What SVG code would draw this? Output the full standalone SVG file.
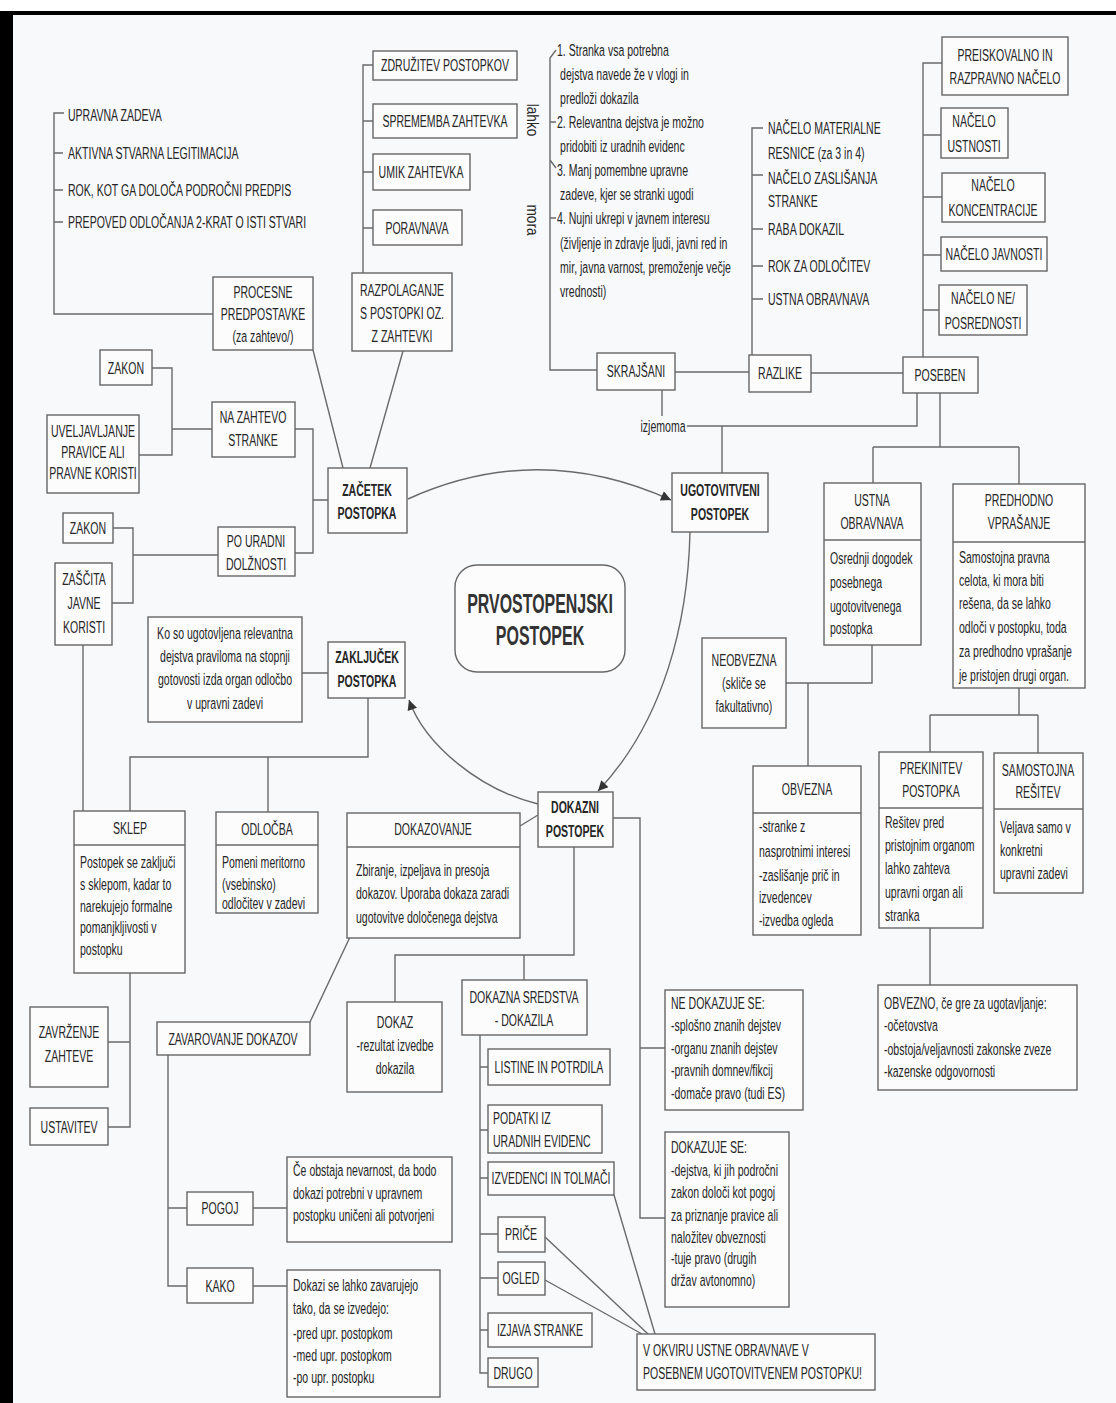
<svg xmlns="http://www.w3.org/2000/svg" width="1116" height="1403" viewBox="0 0 1116 1403">
<style>
.bg{fill:#f8f9fb}
.b{fill:#fcfcfd;stroke:#666;stroke-width:1.4}
.l{fill:none;stroke:#6a6a6a;stroke-width:1.4}
.t{font-family:"Liberation Sans",Arial,sans-serif;font-size:17px;fill:#262626;dominant-baseline:central}
.c{text-anchor:middle}
.bd{font-weight:bold}
.title{font-family:"Liberation Sans",Arial,sans-serif;font-size:28px;font-weight:bold;fill:#333;text-anchor:middle;dominant-baseline:central}
</style>
<defs>
<marker id="ah" viewBox="0 0 10 10" refX="10" refY="5" markerWidth="12" markerHeight="10" markerUnits="userSpaceOnUse" orient="auto">
<path d="M0,0 L10,5 L0,10 z" fill="#333"/>
</marker>
</defs>
<rect x="0" y="0" width="1116" height="1403" fill="#ffffff"/>
<rect class="bg" x="13" y="15" width="1103" height="1388"/>
<rect x="0" y="11" width="1116" height="4" fill="#000"/>
<rect x="0" y="11" width="13" height="1392" fill="#000"/>

<g id="connectors">
<path class="l" d="M64 113 L54 113 L54 314 L213 314 M54 153 L63 153 M54 190 L63 190 M54 222 L63 222"/>
<path class="l" d="M373 65 L363 65 L363 273 M363 121 L373 121 M363 172 L373 172 M363 228 L373 228"/>
<path class="l" d="M556 50 L550 58 L550 370 L597 370 M550 122 L556 122 M550 160 L556 168 M550 218 L556 218"/>
<path class="l" d="M675 372 L749 372 M811 373 L903 373"/>
<path class="l" d="M763 128 L752 128 L752 355 M752 175 L763 175 M752 229 L763 229 M752 266 L763 266 M752 299 L763 299"/>
<path class="l" d="M942 63 L923 63 L923 357 M923 135 L941 135 M923 197 L942 197 M923 255 L941 255 M923 310 L939 310"/>
<path class="l" d="M662 390 L662 416 M687 426 L917 426 L917 393 M722 426 L722 473"/>
<path class="l" d="M940 393 L940 447 M873 447 L1019 447 M873 447 L873 483 M1019 447 L1019 484"/>
<path class="l" d="M872 645 L872 683 L786 683 M808 683 L808 766"/>
<path class="l" d="M1019 688 L1019 715 M930 715 L1038 715 M930 715 L930 752 M1038 715 L1038 753 M930 928 L930 985"/>
<path class="l" d="M313 350 L343 468 M403 351 L370 468"/>
<path class="l" d="M152 368 L172 368 L172 455 L139 455 M172 429 L212 429 M295 429 L313 429 L313 553 L295 553 M313 500 L328 500"/>
<path class="l" d="M113 528 L133 528 L133 603 L112 603 M133 555 L218 555"/>
<path class="l" d="M302 673 L328 673 M83 645 L83 811 M368 698 L368 757 L130 757 L130 811 M268 757 L268 812"/>
<path class="l" d="M130 973 L130 1127 L108 1127 M130 1042 L108 1042"/>
<path class="l" d="M538 815 L520 826 M574 847 L574 955 L395 955 L395 1002 M524 955 L524 980"/>
<path class="l" d="M613 818 L640 818 L640 1218 L665 1218 M640 1048 L665 1048"/>
<path class="l" d="M480 1035 L480 1373 L488 1373 M480 1067 L488 1067 M480 1130 L488 1130 M480 1178 L488 1178 M480 1234 L498 1234 M480 1278 L498 1278 M480 1330 L488 1330"/>
<path class="l" d="M614 1195 L655 1334 M545 1237 L648 1334 M545 1280 L642 1334"/>
<path class="l" d="M350 937 L310 1022 M168 1055 L168 1286 L187 1286 M168 1208 L187 1208 M253 1208 L287 1208 M253 1286 L287 1286"/>
<path class="l" d="M408 499 Q538 440 671 500" marker-end="url(#ah)"/>
<path class="l" d="M690 532 C688 620 665 720 598 791" marker-end="url(#ah)"/>
<path class="l" d="M538 804 C480 790 425 745 409 700" marker-end="url(#ah)"/>
</g>

<g id="list-pogoji">
<text class="t" transform="translate(68 0) scale(.62 1)"><tspan x="0" y="115">UPRAVNA ZADEVA</tspan><tspan x="0" y="153">AKTIVNA STVARNA LEGITIMACIJA</tspan><tspan x="0" y="190">ROK, KOT GA DOLOČA PODROČNI PREDPIS</tspan><tspan x="0" y="222">PREPOVED ODLOČANJA 2-KRAT O ISTI STVARI</tspan></text>
</g>
<g id="procesne">
<rect class="b" x="213" y="277" width="100" height="73"/>
<text class="t c" transform="translate(263 0) scale(.62 1)"><tspan x="0" y="292">PROCESNE</tspan><tspan x="0" y="314">PREDPOSTAVKE</tspan><tspan x="0" y="336">(za zahtevo/)</tspan></text>
</g>
<g id="razpolaganje">
<rect class="b" x="352" y="273" width="100" height="78"/>
<text class="t c" transform="translate(402 0) scale(.62 1)"><tspan x="0" y="290">RAZPOLAGANJE</tspan><tspan x="0" y="313">S POSTOPKI OZ.</tspan><tspan x="0" y="336">Z ZAHTEVKI</tspan></text>
</g>
<g id="zdruzitev"><rect class="b" x="373" y="51" width="144" height="29"/><text class="t c" transform="translate(445 0) scale(.62 1)"><tspan x="0" y="65">ZDRUŽITEV POSTOPKOV</tspan></text></g>
<g id="sprememba"><rect class="b" x="373" y="104" width="144" height="34"/><text class="t c" transform="translate(445 0) scale(.62 1)"><tspan x="0" y="121">SPREMEMBA ZAHTEVKA</tspan></text></g>
<g id="umik"><rect class="b" x="373" y="154" width="97" height="36"/><text class="t c" transform="translate(421 0) scale(.62 1)"><tspan x="0" y="172">UMIK ZAHTEVKA</tspan></text></g>
<g id="poravnava"><rect class="b" x="373" y="210" width="89" height="35"/><text class="t c" transform="translate(417 0) scale(.62 1)"><tspan x="0" y="228">PORAVNAVA</tspan></text></g>

<g id="lahko-mora">
<text class="t" transform="translate(533 120) rotate(90) scale(.8 1)" text-anchor="middle">lahko</text>
<text class="t" transform="translate(533 220) rotate(90) scale(.8 1)" text-anchor="middle">mora</text>
<text class="t" transform="translate(557 0) scale(.62 1)"><tspan x="0" y="50">1. Stranka vsa potrebna</tspan><tspan x="5" y="74">dejstva navede že v vlogi in</tspan><tspan x="5" y="98">predloži dokazila</tspan><tspan x="0" y="122">2. Relevantna dejstva je možno</tspan><tspan x="5" y="146">pridobiti iz uradnih evidenc</tspan><tspan x="0" y="170">3. Manj pomembne upravne</tspan><tspan x="5" y="194">zadeve, kjer se stranki ugodi</tspan><tspan x="0" y="218">4. Nujni ukrepi v javnem interesu</tspan><tspan x="5" y="243">(življenje in zdravje ljudi, javni red in</tspan><tspan x="5" y="267">mir, javna varnost, premoženje večje</tspan><tspan x="5" y="291">vrednosti)</tspan></text>
</g>

<g id="skrajsani"><rect class="b" x="597" y="353" width="78" height="37"/><text class="t c" transform="translate(636 0) scale(.62 1)"><tspan x="0" y="371">SKRAJŠANI</tspan></text></g>
<g id="izjemoma"><text class="t c" transform="translate(663 0) scale(.62 1)"><tspan x="0" y="426">izjemoma</tspan></text></g>
<g id="razlike"><rect class="b" x="749" y="355" width="62" height="37"/><text class="t c" transform="translate(780 0) scale(.62 1)"><tspan x="0" y="373">RAZLIKE</tspan></text></g>
<g id="poseben"><rect class="b" x="903" y="357" width="75" height="36"/><text class="t c" transform="translate(940 0) scale(.62 1)"><tspan x="0" y="375">POSEBEN</tspan></text></g>

<g id="list-razlike">
<text class="t" transform="translate(768 0) scale(.62 1)"><tspan x="0" y="128">NAČELO MATERIALNE</tspan><tspan x="0" y="153">RESNICE (za 3 in 4)</tspan><tspan x="0" y="178">NAČELO ZASLIŠANJA</tspan><tspan x="0" y="201">STRANKE</tspan><tspan x="0" y="229">RABA DOKAZIL</tspan><tspan x="0" y="266">ROK ZA ODLOČITEV</tspan><tspan x="0" y="299">USTNA OBRAVNAVA</tspan></text>
</g>

<g id="preiskovalno"><rect class="b" x="942" y="37" width="126" height="58"/><text class="t c" transform="translate(1005 0) scale(.62 1)"><tspan x="0" y="55">PREISKOVALNO IN</tspan><tspan x="0" y="78">RAZPRAVNO NAČELO</tspan></text></g>
<g id="ustnost"><rect class="b" x="941" y="108" width="67" height="50"/><text class="t c" transform="translate(974 0) scale(.62 1)"><tspan x="0" y="121">NAČELO</tspan><tspan x="0" y="146">USTNOSTI</tspan></text></g>
<g id="koncentracija"><rect class="b" x="942" y="173" width="103" height="49"/><text class="t c" transform="translate(993 0) scale(.62 1)"><tspan x="0" y="185">NAČELO</tspan><tspan x="0" y="210">KONCENTRACIJE</tspan></text></g>
<g id="javnost"><rect class="b" x="941" y="237" width="106" height="34"/><text class="t c" transform="translate(994 0) scale(.62 1)"><tspan x="0" y="254">NAČELO JAVNOSTI</tspan></text></g>
<g id="neposrednost"><rect class="b" x="939" y="285" width="88" height="50"/><text class="t c" transform="translate(983 0) scale(.62 1)"><tspan x="0" y="298">NAČELO NE/</tspan><tspan x="0" y="323">POSREDNOSTI</tspan></text></g>

<g id="ugotovitveni"><rect class="b" x="672" y="473" width="96" height="59"/><text class="t c bd" transform="translate(720 0) scale(.62 1)"><tspan x="0" y="490">UGOTOVITVENI</tspan><tspan x="0" y="514">POSTOPEK</tspan></text></g>

<g id="ustna">
<rect class="b" x="824" y="483" width="97" height="162"/><path class="l" d="M824 540 L921 540"/>
<text class="t c" transform="translate(872 0) scale(.62 1)"><tspan x="0" y="500">USTNA</tspan><tspan x="0" y="523">OBRAVNAVA</tspan></text>
<text class="t" transform="translate(830 0) scale(.62 1)"><tspan x="0" y="558">Osrednji dogodek</tspan><tspan x="0" y="582">posebnega</tspan><tspan x="0" y="606">ugotovitvenega</tspan><tspan x="0" y="628">postopka</tspan></text>
</g>
<g id="predhodno">
<rect class="b" x="953" y="484" width="132" height="204"/><path class="l" d="M953 542 L1085 542"/>
<text class="t c" transform="translate(1019 0) scale(.62 1)"><tspan x="0" y="500">PREDHODNO</tspan><tspan x="0" y="523">VPRAŠANJE</tspan></text>
<text class="t" transform="translate(959 0) scale(.62 1)"><tspan x="0" y="557">Samostojna pravna</tspan><tspan x="0" y="580">celota, ki mora biti</tspan><tspan x="0" y="603">rešena, da se lahko</tspan><tspan x="0" y="627">odloči v postopku, toda</tspan><tspan x="0" y="651">za predhodno vprašanje</tspan><tspan x="0" y="675">je pristojen drugi organ.</tspan></text>
</g>
<g id="neobvezna"><rect class="b" x="702" y="638" width="84" height="90"/><text class="t c" transform="translate(744 0) scale(.62 1)"><tspan x="0" y="660">NEOBVEZNA</tspan><tspan x="0" y="683">(skliče se</tspan><tspan x="0" y="706">fakultativno)</tspan></text></g>
<g id="obvezna">
<rect class="b" x="753" y="766" width="108" height="169"/><path class="l" d="M753 813 L861 813"/>
<text class="t c" transform="translate(807 0) scale(.62 1)"><tspan x="0" y="789">OBVEZNA</tspan></text>
<text class="t" transform="translate(759 0) scale(.62 1)"><tspan x="0" y="826">-stranke z</tspan><tspan x="0" y="851">nasprotnimi interesi</tspan><tspan x="0" y="875">-zaslišanje prič in</tspan><tspan x="0" y="897">izvedencev</tspan><tspan x="0" y="920">-izvedba ogleda</tspan></text>
</g>
<g id="prekinitev">
<rect class="b" x="879" y="752" width="104" height="176"/><path class="l" d="M879 808 L983 808"/>
<text class="t c" transform="translate(931 0) scale(.62 1)"><tspan x="0" y="768">PREKINITEV</tspan><tspan x="0" y="791">POSTOPKA</tspan></text>
<text class="t" transform="translate(885 0) scale(.62 1)"><tspan x="0" y="822">Rešitev pred</tspan><tspan x="0" y="845">pristojnim organom</tspan><tspan x="0" y="868">lahko zahteva</tspan><tspan x="0" y="892">upravni organ ali</tspan><tspan x="0" y="915">stranka</tspan></text>
</g>
<g id="samostojna">
<rect class="b" x="994" y="753" width="89" height="140"/><path class="l" d="M994 809 L1083 809"/>
<text class="t c" transform="translate(1038 0) scale(.62 1)"><tspan x="0" y="770">SAMOSTOJNA</tspan><tspan x="0" y="792">REŠITEV</tspan></text>
<text class="t" transform="translate(1000 0) scale(.62 1)"><tspan x="0" y="827">Veljava samo v</tspan><tspan x="0" y="850">konkretni</tspan><tspan x="0" y="873">upravni zadevi</tspan></text>
</g>
<g id="obvezno">
<rect class="b" x="878" y="985" width="199" height="105"/>
<text class="t" transform="translate(884 0) scale(.62 1)"><tspan x="0" y="1003">OBVEZNO, če gre za ugotavljanje:</tspan><tspan x="0" y="1025">-očetovstva</tspan><tspan x="0" y="1049">-obstoja/veljavnosti zakonske zveze</tspan><tspan x="0" y="1071">-kazenske odgovornosti</tspan></text>
</g>

<g id="zacetek"><rect class="b" x="328" y="468" width="79" height="65"/><text class="t c bd" transform="translate(367 0) scale(.62 1)"><tspan x="0" y="490">ZAČETEK</tspan><tspan x="0" y="513">POSTOPKA</tspan></text></g>
<g id="zakon1"><rect class="b" x="100" y="350" width="52" height="35"/><text class="t c" transform="translate(126 0) scale(.62 1)"><tspan x="0" y="368">ZAKON</tspan></text></g>
<g id="uveljavljanje"><rect class="b" x="47" y="415" width="92" height="78"/><text class="t c" transform="translate(93 0) scale(.62 1)"><tspan x="0" y="431">UVELJAVLJANJE</tspan><tspan x="0" y="452">PRAVICE ALI</tspan><tspan x="0" y="473">PRAVNE KORISTI</tspan></text></g>
<g id="nazahtevo"><rect class="b" x="212" y="402" width="83" height="55"/><text class="t c" transform="translate(253 0) scale(.62 1)"><tspan x="0" y="417">NA ZAHTEVO</tspan><tspan x="0" y="440">STRANKE</tspan></text></g>
<g id="zakon2"><rect class="b" x="63" y="513" width="50" height="30"/><text class="t c" transform="translate(88 0) scale(.62 1)"><tspan x="0" y="528">ZAKON</tspan></text></g>
<g id="zascita"><rect class="b" x="55" y="563" width="57" height="82"/><text class="t c" transform="translate(84 0) scale(.62 1)"><tspan x="0" y="579">ZAŠČITA</tspan><tspan x="0" y="603">JAVNE</tspan><tspan x="0" y="627">KORISTI</tspan></text></g>
<g id="pouradni"><rect class="b" x="218" y="527" width="77" height="49"/><text class="t c" transform="translate(256 0) scale(.62 1)"><tspan x="0" y="541">PO URADNI</tspan><tspan x="0" y="564">DOLŽNOSTI</tspan></text></g>

<g id="center"><rect x="455" y="565" width="170" height="107" rx="22" ry="22" fill="#fcfcfd" stroke="#666" stroke-width="1.4"/><text class="title" transform="translate(540 0) scale(.57 1)"><tspan x="0" y="603">PRVOSTOPENJSKI</tspan><tspan x="0" y="635">POSTOPEK</tspan></text></g>

<g id="zakljucek"><rect class="b" x="328" y="642" width="77" height="56"/><text class="t c bd" transform="translate(367 0) scale(.62 1)"><tspan x="0" y="657">ZAKLJUČEK</tspan><tspan x="0" y="681">POSTOPKA</tspan></text></g>
<g id="zakljucek-opis"><rect class="b" x="148" y="617" width="154" height="105"/><text class="t c" transform="translate(225 0) scale(.62 1)"><tspan x="0" y="633">Ko so ugotovljena relevantna</tspan><tspan x="0" y="656">dejstva praviloma na stopnji</tspan><tspan x="0" y="679">gotovosti izda organ odločbo</tspan><tspan x="0" y="703">v upravni zadevi</tspan></text></g>
<g id="sklep">
<rect class="b" x="74" y="811" width="111" height="162"/><path class="l" d="M74 845 L185 845"/>
<text class="t c" transform="translate(130 0) scale(.62 1)"><tspan x="0" y="828">SKLEP</tspan></text>
<text class="t" transform="translate(80 0) scale(.62 1)"><tspan x="0" y="862">Postopek se zaključi</tspan><tspan x="0" y="884">s sklepom, kadar to</tspan><tspan x="0" y="906">narekujejo formalne</tspan><tspan x="0" y="927">pomanjkljivosti v</tspan><tspan x="0" y="949">postopku</tspan></text>
</g>
<g id="odlocba">
<rect class="b" x="216" y="812" width="102" height="101"/><path class="l" d="M216 845 L318 845"/>
<text class="t c" transform="translate(267 0) scale(.62 1)"><tspan x="0" y="829">ODLOČBA</tspan></text>
<text class="t" transform="translate(222 0) scale(.62 1)"><tspan x="0" y="862">Pomeni meritorno</tspan><tspan x="0" y="884">(vsebinsko)</tspan><tspan x="0" y="903">odločitev v zadevi</tspan></text>
</g>
<g id="zavrzenje"><rect class="b" x="30" y="1007" width="78" height="80"/><text class="t c" transform="translate(69 0) scale(.62 1)"><tspan x="0" y="1032">ZAVRŽENJE</tspan><tspan x="0" y="1056">ZAHTEVE</tspan></text></g>
<g id="ustavitev"><rect class="b" x="30" y="1108" width="78" height="37"/><text class="t c" transform="translate(69 0) scale(.62 1)"><tspan x="0" y="1127">USTAVITEV</tspan></text></g>

<g id="dokazni"><rect class="b" x="538" y="792" width="75" height="55"/><text class="t c bd" transform="translate(575 0) scale(.62 1)"><tspan x="0" y="807">DOKAZNI</tspan><tspan x="0" y="831">POSTOPEK</tspan></text></g>
<g id="dokazovanje">
<rect class="b" x="347" y="813" width="173" height="125"/><path class="l" d="M347 847 L520 847"/>
<text class="t c" transform="translate(433 0) scale(.62 1)"><tspan x="0" y="829">DOKAZOVANJE</tspan></text>
<text class="t" transform="translate(356 0) scale(.62 1)"><tspan x="0" y="870">Zbiranje, izpeljava in presoja</tspan><tspan x="0" y="893">dokazov. Uporaba dokaza zaradi</tspan><tspan x="0" y="917">ugotovitve določenega dejstva</tspan></text>
</g>
<g id="dokaz"><rect class="b" x="347" y="1002" width="95" height="90"/><text class="t c" transform="translate(395 0) scale(.62 1)"><tspan x="0" y="1022">DOKAZ</tspan><tspan x="0" y="1045">-rezultat izvedbe</tspan><tspan x="0" y="1068">dokazila</tspan></text></g>
<g id="dokazna-sredstva"><rect class="b" x="462" y="980" width="125" height="55"/><text class="t c" transform="translate(524 0) scale(.62 1)"><tspan x="0" y="997">DOKAZNA SREDSTVA</tspan><tspan x="0" y="1020">- DOKAZILA</tspan></text></g>
<g id="listine"><rect class="b" x="488" y="1049" width="122" height="36"/><text class="t c" transform="translate(549 0) scale(.62 1)"><tspan x="0" y="1067">LISTINE IN POTRDILA</tspan></text></g>
<g id="podatki"><rect class="b" x="488" y="1105" width="114" height="48"/><text class="t" transform="translate(493 0) scale(.62 1)"><tspan x="0" y="1118">PODATKI IZ</tspan><tspan x="0" y="1141">URADNIH EVIDENC</tspan></text></g>
<g id="izvedenci"><rect class="b" x="488" y="1162" width="126" height="33"/><text class="t c" transform="translate(551 0) scale(.62 1)"><tspan x="0" y="1178">IZVEDENCI IN TOLMAČI</tspan></text></g>
<g id="price"><rect class="b" x="498" y="1217" width="47" height="35"/><text class="t c" transform="translate(521 0) scale(.62 1)"><tspan x="0" y="1234">PRIČE</tspan></text></g>
<g id="ogled"><rect class="b" x="498" y="1262" width="47" height="33"/><text class="t c" transform="translate(521 0) scale(.62 1)"><tspan x="0" y="1278">OGLED</tspan></text></g>
<g id="izjava"><rect class="b" x="488" y="1313" width="104" height="34"/><text class="t c" transform="translate(540 0) scale(.62 1)"><tspan x="0" y="1330">IZJAVA STRANKE</tspan></text></g>
<g id="drugo"><rect class="b" x="488" y="1358" width="50" height="29"/><text class="t c" transform="translate(513 0) scale(.62 1)"><tspan x="0" y="1373">DRUGO</tspan></text></g>
<g id="v-okviru"><rect class="b" x="637" y="1334" width="238" height="56"/><text class="t" transform="translate(643 0) scale(.62 1)"><tspan x="0" y="1350">V OKVIRU USTNE OBRAVNAVE V</tspan><tspan x="0" y="1373">POSEBNEM UGOTOVITVENEM POSTOPKU!</tspan></text></g>
<g id="ne-dokazuje"><rect class="b" x="665" y="990" width="138" height="120"/><text class="t" transform="translate(671 0) scale(.62 1)"><tspan x="0" y="1003">NE DOKAZUJE SE:</tspan><tspan x="0" y="1025">-splošno znanih dejstev</tspan><tspan x="0" y="1048">-organu znanih dejstev</tspan><tspan x="0" y="1070">-pravnih domnev/fikcij</tspan><tspan x="0" y="1093">-domače pravo (tudi ES)</tspan></text></g>
<g id="dokazuje"><rect class="b" x="665" y="1132" width="124" height="175"/><text class="t" transform="translate(671 0) scale(.62 1)"><tspan x="0" y="1147">DOKAZUJE SE:</tspan><tspan x="0" y="1170">-dejstva, ki jih področni</tspan><tspan x="0" y="1192">zakon določi kot pogoj</tspan><tspan x="0" y="1215">za priznanje pravice ali</tspan><tspan x="0" y="1237">naložitev obveznosti</tspan><tspan x="0" y="1258">-tuje pravo (drugih</tspan><tspan x="0" y="1280">držav avtonomno)</tspan></text></g>

<g id="zavarovanje"><rect class="b" x="157" y="1022" width="153" height="33"/><text class="t c" transform="translate(233 0) scale(.62 1)"><tspan x="0" y="1039">ZAVAROVANJE DOKAZOV</tspan></text></g>
<g id="pogoj"><rect class="b" x="187" y="1192" width="66" height="33"/><text class="t c" transform="translate(220 0) scale(.62 1)"><tspan x="0" y="1208">POGOJ</tspan></text></g>
<g id="kako"><rect class="b" x="187" y="1268" width="66" height="35"/><text class="t c" transform="translate(220 0) scale(.62 1)"><tspan x="0" y="1286">KAKO</tspan></text></g>
<g id="pogoj-opis"><rect class="b" x="287" y="1157" width="165" height="85"/><text class="t" transform="translate(293 0) scale(.62 1)"><tspan x="0" y="1170">Če obstaja nevarnost, da bodo</tspan><tspan x="0" y="1193">dokazi potrebni v upravnem</tspan><tspan x="0" y="1215">postopku uničeni ali potvorjeni</tspan></text></g>
<g id="kako-opis"><rect class="b" x="287" y="1270" width="153" height="127"/><text class="t" transform="translate(293 0) scale(.62 1)"><tspan x="0" y="1285">Dokazi se lahko zavarujejo</tspan><tspan x="0" y="1308">tako, da se izvedejo:</tspan><tspan x="0" y="1333">-pred upr. postopkom</tspan><tspan x="0" y="1355">-med upr. postopkom</tspan><tspan x="0" y="1377">-po upr. postopku</tspan></text></g>
</svg>
